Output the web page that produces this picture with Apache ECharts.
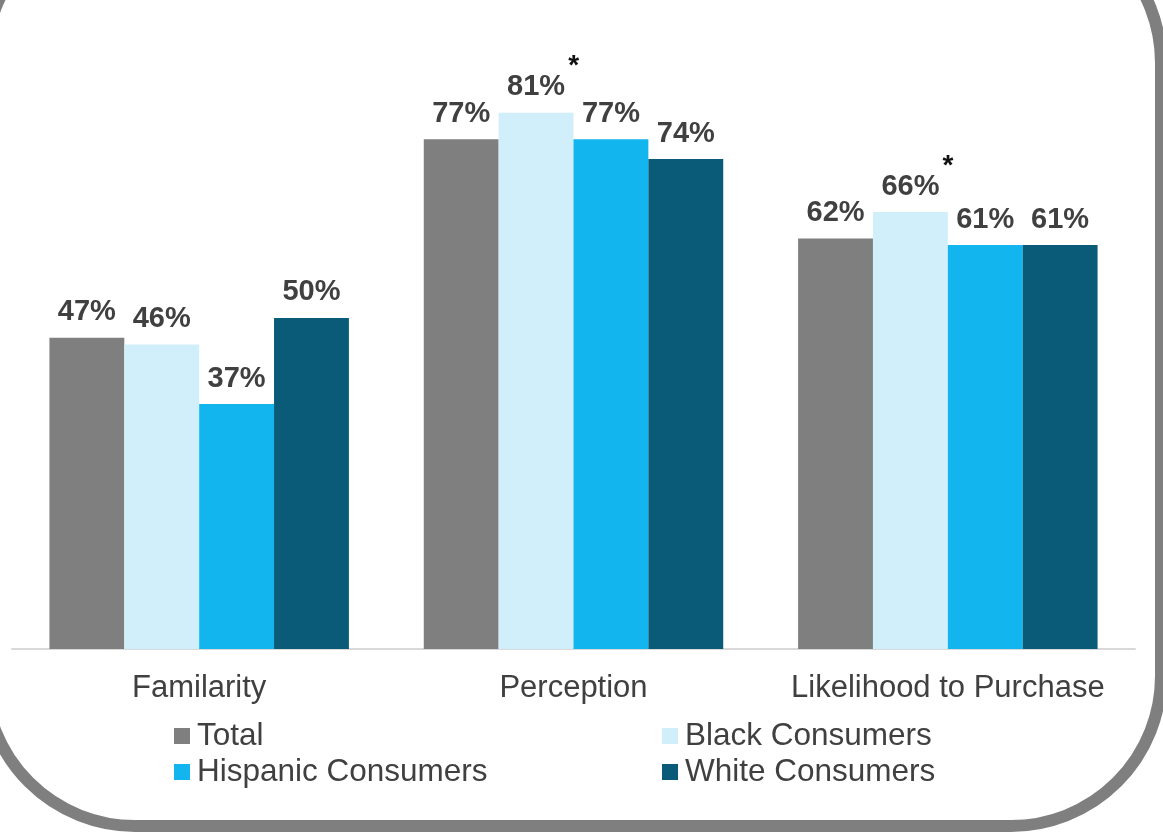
<!DOCTYPE html>
<html>
<head>
<meta charset="utf-8">
<script src="https://cdn.jsdelivr.net/npm/echarts@6/dist/echarts.min.js"></script>
<style>
html,body{margin:0;padding:0;background:#fff;}
#c{width:1163px;height:832px;}
</style>
</head>
<body>
<div id="c"></div>
<script>
var categories = ['Familarity', 'Perception', 'Likelihood to Purchase'];
var seriesNames = ['Total', 'Black Consumers', 'Hispanic Consumers', 'White Consumers'];
var totalValues = [47, 77, 62];
var blackValues = [46, 81, 66];
var hispanicValues = [37, 77, 61];
var whiteValues = [50, 74, 61];
var blackStarred = [false, true, true];
var colors = ['#7f7f7f', '#d0effb', '#12b5ee', '#0a5b78'];

var FONT = '"Liberation Sans", Arial, Helvetica, sans-serif';
var textColor = '#404040';

function makeSeries(name, values, color, starred) {
  return {
    name: name,
    type: 'bar',
    data: values,
    barGap: '0%',
    barCategoryGap: '20%',
    itemStyle: { color: color },
    label: {
      show: true,
      position: 'top',
      distance: 11,
      fontFamily: FONT,
      formatter: function (p) {
        var v = '{v|' + p.value + '%}';
        if (starred && starred[p.dataIndex]) return '{s|*}\n' + v;
        return v;
      },
      rich: {
        v: { fontFamily: FONT, fontSize: 29, fontWeight: 'bold', color: textColor, align: 'center' },
        s: { fontFamily: FONT, fontSize: 28, fontWeight: 'bold', color: '#111', width: 86, align: 'right', lineHeight: 12 }
      }
    }
  };
}

var chart = echarts.init(document.getElementById('c'), null, { renderer: 'canvas' });
chart.setOption({
  animation: false,
  backgroundColor: '#ffffff',
  grid: { left: 12, right: 28, top: 20, bottom: 183, containLabel: false },
  xAxis: {
    type: 'category',
    data: categories,
    axisTick: { show: false },
    axisLine: { lineStyle: { color: '#d9d9d9', width: 2 } },
    axisLabel: { fontFamily: FONT, fontSize: 31, color: textColor, margin: 24, interval: 0 }
  },
  yAxis: { type: 'value', min: 0, max: 95, show: false, splitLine: { show: false } },
  legend: [
    {
      data: [seriesNames[0], seriesNames[2]],
      orient: 'vertical', left: 174, top: 720, padding: 0,
      itemWidth: 16, itemHeight: 16, itemGap: 4, icon: 'rect',
      textStyle: { fontFamily: FONT, fontSize: 31.5, color: textColor, padding: [0, 0, 0, 2] }
    },
    {
      data: [seriesNames[1], seriesNames[3]],
      orient: 'vertical', left: 662, top: 720, padding: 0,
      itemWidth: 16, itemHeight: 16, itemGap: 4, icon: 'rect',
      textStyle: { fontFamily: FONT, fontSize: 31.5, color: textColor, padding: [0, 0, 0, 2] }
    }
  ],
  graphic: [{
    type: 'rect',
    shape: { x: -15, y: -87, width: 1176, height: 913, r: 150 },
    style: { fill: 'none', stroke: '#7f7f7f', lineWidth: 12 },
    silent: true
  }],
  series: [
    makeSeries(seriesNames[0], totalValues, colors[0], null),
    makeSeries(seriesNames[1], blackValues, colors[1], blackStarred),
    makeSeries(seriesNames[2], hispanicValues, colors[2], null),
    makeSeries(seriesNames[3], whiteValues, colors[3], null)
  ]
});
</script>
</body>
</html>
